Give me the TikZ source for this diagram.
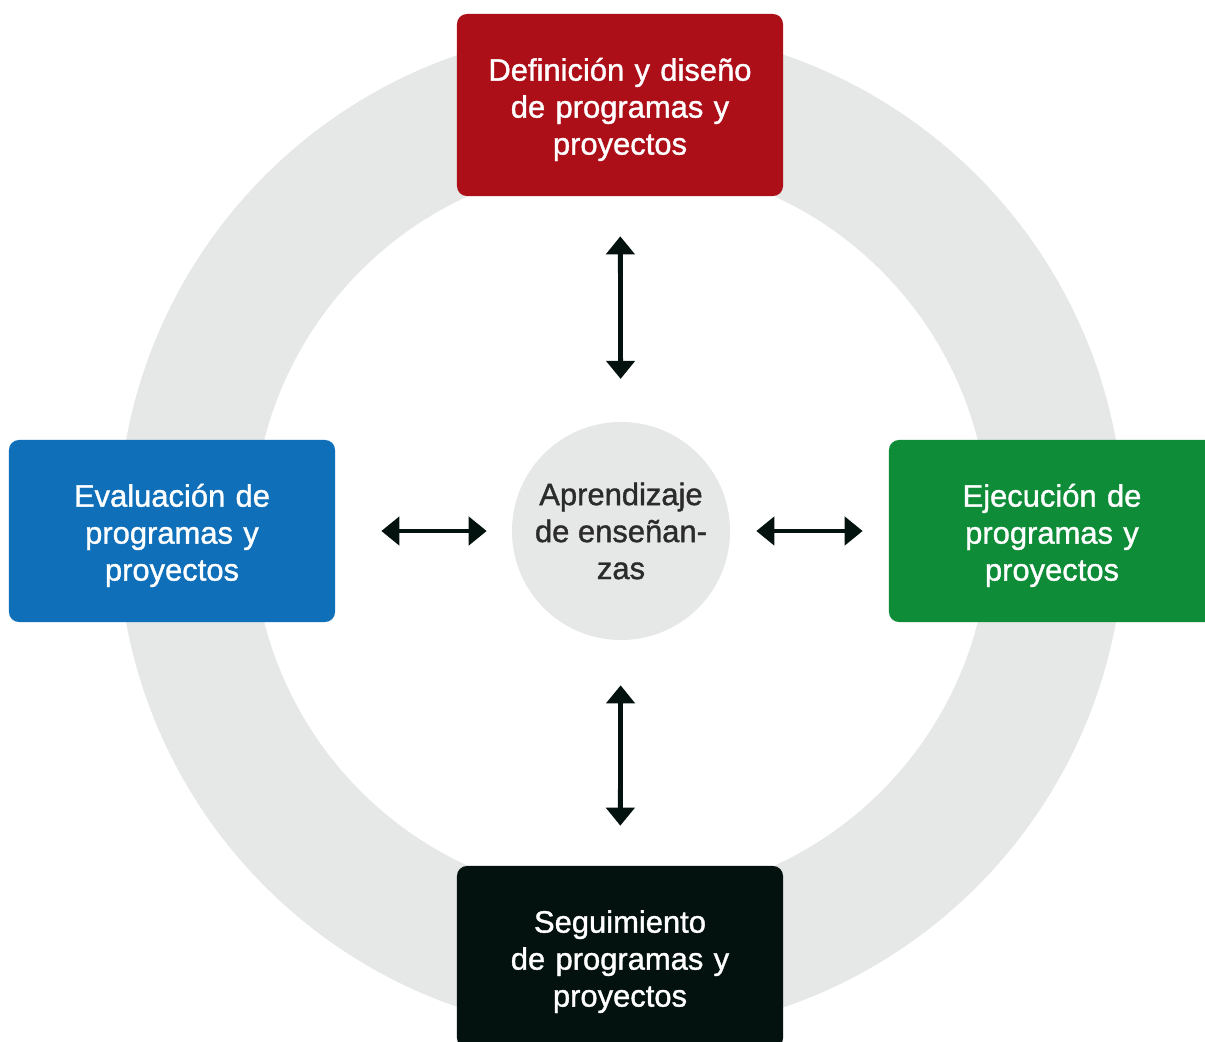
\documentclass[tikz,border=0pt]{standalone}
\usepackage{fontspec}
\setmainfont{Liberation Sans}
\newfontfamily\medio{Liberation Sans}[FakeBold=1.2]
\usetikzlibrary{arrows.meta}
\definecolor{rojo}{HTML}{AD0F19}
\definecolor{azul}{HTML}{0F6FB8}
\definecolor{verde}{HTML}{0F8C38}
\definecolor{negro}{HTML}{03120E}
\definecolor{anillo}{HTML}{E6E7E7}
\definecolor{textogris}{HTML}{2B2B2B}

\begin{document}
\begin{tikzpicture}[x=0.025cm, y=-0.025cm,
  caja/.style={rounded corners=0.25cm, minimum width=8.15cm, minimum height=4.55cm,
    text width=7.5cm, align=center, text=white, font=\medio\fontsize{22}{26.3}\selectfont,
    execute at begin node={\rule{0pt}{22.5pt}}},
  flecha/.style={{Triangle[length=0.45cm,width=0.7cm]}-{Triangle[length=0.45cm,width=0.7cm]},
    line width=0.12cm, draw=negro}]
\useasboundingbox (0,0) rectangle (1205,1041);
\clip (0,0) rectangle (1205,1041);
\fill[anillo, even odd rule] (621,531) circle (12.575cm) circle (9.2cm);
\node[caja, fill=rojo] (def) at (620,105) {Definición y diseño\\de programas y\\proyectos};
\node[caja, fill=azul] (eva) at (172,531) {Evaluación de\\programas y\\proyectos};
\node[caja, fill=verde] (eje) at (1052,531) {Ejecución de\\programas y\\proyectos};
\node[caja, fill=negro] (seg) at (620,957) {Seguimiento\\de programas y\\proyectos};
\node[circle, fill=anillo, minimum size=5.45cm, align=center, text=textogris,
  font=\medio\fontsize{22}{26.3}\selectfont] (apr) at (621,531) {Aprendizaje\\de enseñan-\\zas};
\draw[flecha, shorten <=1cm, shorten >=1.07cm] (def) -- (apr);
\draw[flecha, shorten <=1.15cm, shorten >=0.625cm] (eva) -- (apr);
\draw[flecha, shorten <=0.65cm, shorten >=0.65cm] (apr) -- (eje);
\draw[flecha, shorten <=1.125cm, shorten >=1cm] (apr) -- (seg);
\end{tikzpicture}
\end{document}
